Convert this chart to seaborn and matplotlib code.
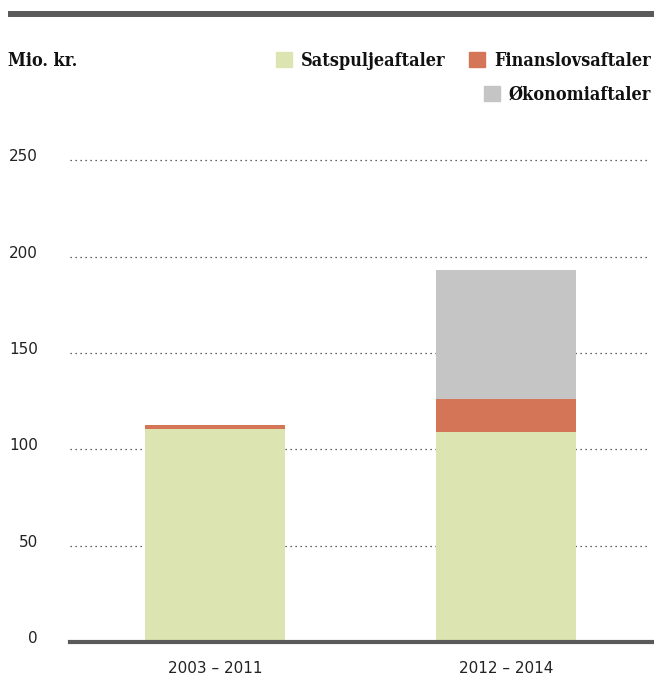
import matplotlib
matplotlib.use("Agg")
import matplotlib.pyplot as plt
import matplotlib.patches as mpatches
import matplotlib.transforms as mtransforms
from matplotlib.lines import Line2D
import pandas as pd
import seaborn as sns

# ---------------------------------------------------------------------------
# Data (Mio. kr.)
# ---------------------------------------------------------------------------
periods = ["2003 – 2011", "2012 – 2014"]
satspulje = [110.5, 109]
finanslov = [2, 17]
oekonomi = [0, 67]
series_names = ["Satspuljeaftaler", "Finanslovsaftaler", "Økonomiaftaler"]
colors = ["#dce5b2", "#d37556", "#c4c5c4"]

df = pd.DataFrame({
    "period": periods,
    "Satspuljeaftaler": satspulje,
    "Finanslovsaftaler": finanslov,
    "Økonomiaftaler": oekonomi,
})
# cumulative tops, drawn back to front
df["top1"] = df["Satspuljeaftaler"]
df["top2"] = df["top1"] + df["Finanslovsaftaler"]
df["top3"] = df["top2"] + df["Økonomiaftaler"]

sns.set_style("white")
dark = "#5a5a5a"
label_prop = {"family": ["DejaVu Serif"], "weight": "bold", "size": 13,
              "stretch": "condensed"}

W, H = 654, 679
fig = plt.figure(figsize=(W / 100, H / 100), dpi=100)
ax = fig.add_axes([70 / W, 37 / H, 584 / W, 501 / H])

for col, color in zip(["top3", "top2", "top1"], colors[::-1]):
    sns.barplot(data=df, x="period", y=col, color=color, width=0.48,
                saturation=1, ax=ax, linewidth=0)

ax.set_xlim(-0.498, 1.5086)
ax.set_ylim(0, 260)
ax.set_yticks([0, 50, 100, 150, 200, 250])
ax.set_xlabel("")
ax.set_ylabel("")

# dotted gridlines (not at zero)
for v in [50, 100, 150, 200, 250]:
    ax.axhline(v, xmax=0.99, color="#333333", linestyle=(0, (1, 3)),
               linewidth=0.9, zorder=0)

for side in ["top", "right", "left"]:
    ax.spines[side].set_visible(False)
ax.spines["bottom"].set_color(dark)
ax.spines["bottom"].set_linewidth(3)
ax.set_axisbelow(True)

ax.tick_params(axis="y", length=0, pad=23, labelsize=11, labelcolor="#222222")
# tick labels sit a little above their gridlines
lift = mtransforms.ScaledTranslation(0, 5 / 100, fig.dpi_scale_trans)
for lab in ax.get_yticklabels():
    lab.set_transform(lab.get_transform() + lift)
ax.tick_params(axis="x", length=0, pad=14, labelsize=11, labelcolor="#222222")

# top rule
fig.add_artist(Line2D([8 / W, 1.0], [1 - 14 / H, 1 - 14 / H], color=dark,
                      linewidth=4.3, solid_capstyle="butt"))

# unit label
fig.text(8 / W, 1 - 61 / H, "Mio. kr.", fontproperties=label_prop,
         va="center", ha="left", color="#111111")

handles = [mpatches.Patch(color=c, label=n) for c, n in zip(colors, series_names)]
leg_kw = dict(frameon=False, loc="center right", borderaxespad=0, borderpad=0,
              handlelength=0.89, handleheight=0.89, handletextpad=0.5,
              columnspacing=1.3, prop=label_prop, labelcolor="#111111")
fig.legend(handles=handles[:2], ncol=2, bbox_to_anchor=(651 / W, 1 - 61 / H), **leg_kw)
fig.legend(handles=handles[2:], ncol=1, bbox_to_anchor=(651 / W, 1 - 95 / H), **leg_kw)

fig.savefig("out.png", dpi=100)
plt.close(fig)
